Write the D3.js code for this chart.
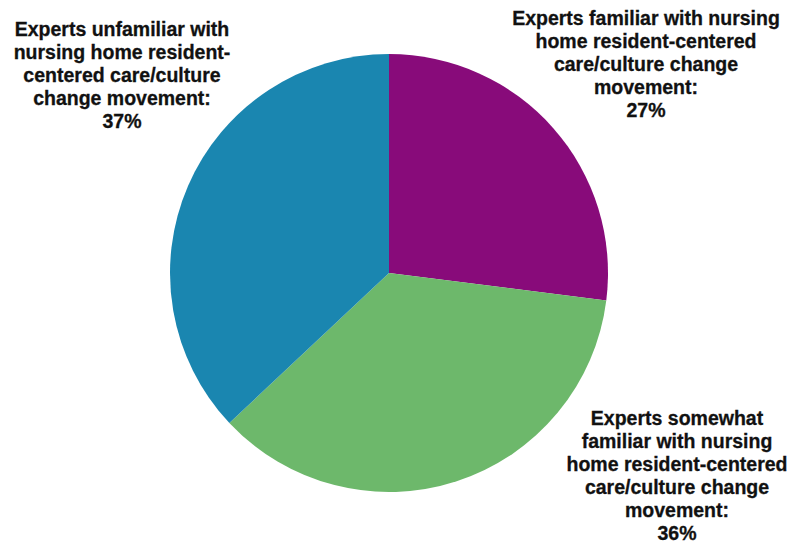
<!DOCTYPE html>
<html>
<head>
<meta charset="utf-8">
<script src="https://cdn.jsdelivr.net/npm/d3@7"></script>
<style>
  html, body { margin: 0; padding: 0; background: #ffffff; }
  svg { display: block; }
  text { font-family: "Liberation Sans", Arial, Helvetica, sans-serif; font-weight: bold; fill: #111111; stroke: #111111; stroke-width: 0.3px; }
</style>
</head>
<body>
<svg id="chart" width="793" height="543"></svg>
<script>
// Familiarity with the resident-centered care / culture change movement
const categories = ["familiar", "somewhat", "unfamiliar"];
const shares = [27, 36, 37];
const colors = ["#880b7a", "#6db86b", "#1a86b0"];
const labelLines = [
  ["Experts familiar with nursing", "home resident-centered", "care/culture change", "movement:", "27%"],
  ["Experts somewhat", "familiar with nursing", "home resident-centered", "care/culture change", "movement:", "36%"],
  ["Experts unfamiliar with", "nursing home resident-", "centered care/culture", "change movement:", "37%"]
];

const W = 793, H = 543;
const cx = 389, cy = 273, radius = 219;
const svg = d3.select("#chart");

const pie = d3.pie().sort(null).value(d => d.value);
const arc = d3.arc().innerRadius(0).outerRadius(radius);
const data = categories.map((c, i) => ({ key: c, value: shares[i] }));

const g = svg.append("g").attr("transform", `translate(${cx},${cy})`);
g.selectAll("path")
  .data(pie(data))
  .join("path")
  .attr("d", arc)
  .attr("fill", (d, i) => colors[i]);

// Label blocks: centre x and first baseline
const labelPos = [
  { x: 646, y: 25 },
  { x: 677, y: 425 },
  { x: 122, y: 36 }
];
const lineH = 23;
labelLines.forEach((lines, i) => {
  const t = svg.append("text")
    .attr("text-anchor", "middle")
    .attr("font-size", "19.5px");
  lines.forEach((ln, j) => {
    t.append("tspan")
      .attr("x", labelPos[i].x)
      .attr("y", labelPos[i].y + j * lineH)
      .text(ln);
  });
});
</script>
</body>
</html>
